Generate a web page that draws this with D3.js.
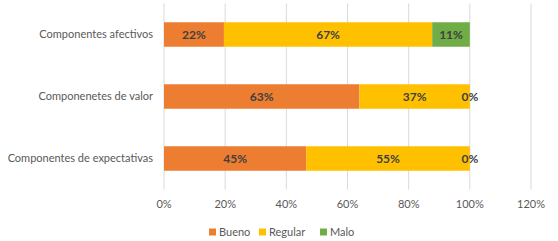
<!DOCTYPE html>
<html>
<head>
<meta charset="utf-8">
<script src="https://cdn.jsdelivr.net/npm/d3@7"></script>
<style>
  body { margin: 0; background: #fff; }
  text { font-family: Lato, "Open Sans", sans-serif; }
</style>
</head>
<body>
<svg id="chart"></svg>
<script>
const categories = ["Componentes afectivos", "Componenetes de valor", "Componentes de expectativas"];
const seriesNames = ["Bueno", "Regular", "Malo"];
const bueno = [19.6, 63.9, 46.5];
const regular = [68.1, 36.1, 53.5];
const malo = [12.3, 0, 0];
const buenoLabels = ["22%", "63%", "45%"];
const regularLabels = ["67%", "37%", "55%"];
const maloLabels = ["11%", "0%", "0%"];
const ticks = [0, 20, 40, 60, 80, 100, 120];
const colors = ["#ED7D31", "#FFC000", "#70AD47"];

const W = 558, H = 241;
const margin = { top: 3.5, right: 27, bottom: 51.5, left: 164 };
const width = W - margin.left - margin.right,
    height = H - margin.top - margin.bottom;

const svg = d3.select("#chart")
    .attr("width", W)
    .attr("height", H);

const g = svg.append("g")
    .attr("transform", `translate(${margin.left},${margin.top})`);

const x = d3.scaleLinear().domain([0, 120]).range([0, width]);
const y = d3.scaleBand().domain(categories).range([0, height]).paddingInner(0.605).paddingOuter(0.3025);

// grid
g.selectAll(".grid")
    .data(ticks)
    .enter().append("line")
    .attr("x1", d => x(d)).attr("x2", d => x(d))
    .attr("y1", 0).attr("y2", height)
    .attr("stroke", "#D9D9D9")
    .attr("stroke-width", 1);

// tick labels
g.selectAll(".tick-label")
    .data(ticks)
    .enter().append("text")
    .attr("x", d => x(d))
    .attr("y", height + 18)
    .attr("text-anchor", "middle")
    .attr("font-size", 11)
    .attr("fill", "#595959")
    .text(d => d + "%");

// category labels
g.selectAll(".cat")
    .data(categories)
    .enter().append("text")
    .attr("x", -11)
    .attr("y", d => y(d) + y.bandwidth() / 2)
    .attr("dy", "0.35em")
    .attr("text-anchor", "end")
    .attr("font-size", 11)
    .attr("fill", "#595959")
    .text(d => d);

const series = [bueno, regular, malo];
const labels = [buenoLabels, regularLabels, maloLabels];

const rows = categories.map((c, i) => {
    let start = 0;
    return series.map((s, k) => {
        const seg = { cat: c, k, x0: start, x1: start + s[i], label: labels[k][i] };
        start += s[i];
        return seg;
    });
}).flat();

g.selectAll(".seg")
    .data(rows)
    .enter().append("rect")
    .attr("x", d => x(d.x0))
    .attr("y", d => y(d.cat))
    .attr("width", d => x(d.x1) - x(d.x0))
    .attr("height", y.bandwidth())
    .attr("fill", d => colors[d.k]);

g.selectAll(".seg-label")
    .data(rows)
    .enter().append("text")
    .attr("x", d => (x(d.x0) + x(d.x1)) / 2)
    .attr("y", d => y(d.cat) + y.bandwidth() / 2)
    .attr("dy", "0.35em")
    .attr("text-anchor", "middle")
    .attr("font-size", 12)
    .attr("font-weight", "bold")
    .attr("fill", "#404040")
    .text(d => d.label);

// legend
const legendX = [209, 259, 320];
const legend = svg.selectAll(".legend")
    .data(seriesNames)
    .enter().append("g")
    .attr("transform", (d, i) => `translate(${legendX[i]},232)`);

legend.append("rect")
    .attr("x", 0).attr("y", -3.5)
    .attr("width", 7).attr("height", 7)
    .attr("fill", (d, i) => colors[i]);

legend.append("text")
    .attr("x", 10)
    .attr("dy", "0.35em")
    .attr("font-size", 11)
    .attr("fill", "#595959")
    .text(d => d);
</script>
</body>
</html>
